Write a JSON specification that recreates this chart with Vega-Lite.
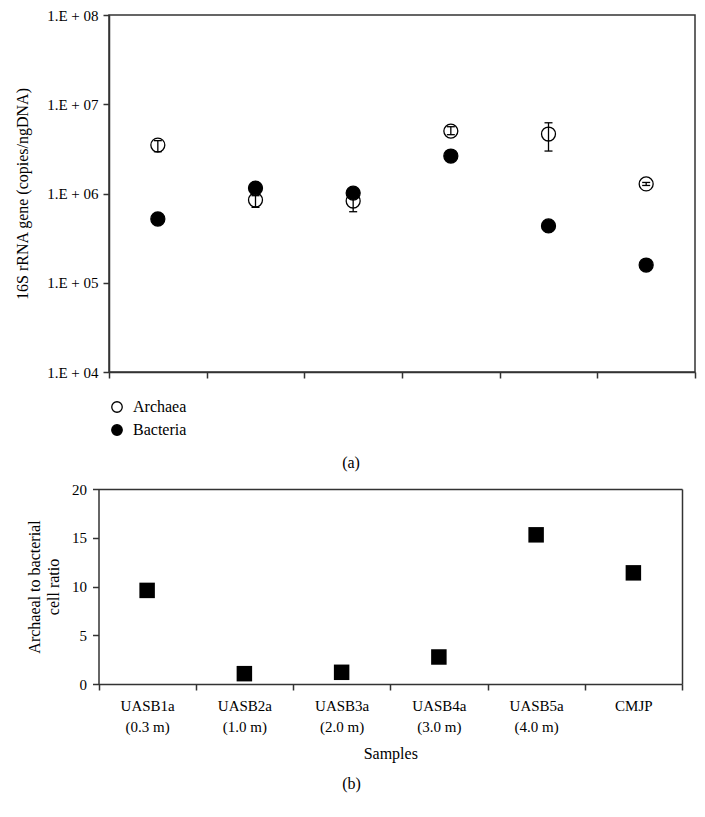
{
  "$schema": "https://vega.github.io/schema/vega-lite/v6.json",
  "padding": {"left": 13, "top": 7, "right": 5, "bottom": 5},
  "spacing": 10,
  "resolve": {"legend": {"fill": "independent"}, "scale": {"fill": "independent"}},
  "config": {
    "font": "Liberation Serif",
    "view": {"stroke": "#333", "strokeWidth": 1.5},
    "axis": {
      "domainColor": "#333", "domainWidth": 1.5, "tickColor": "#333", "tickWidth": 1.5,
      "labelColor": "black", "titleColor": "black", "titleFontWeight": "normal",
      "labelFontSize": 15, "titleFontSize": 16, "grid": false, "tickSize": 6
    },
    "legend": {"labelFontSize": 16, "labelColor": "black"},
    "title": {"fontWeight": "normal", "fontSize": 16, "color": "black"}
  },
  "datasets": {
    "counts": [
      {"sample": "UASB1a (0.3 m)", "group": "Archaea", "value": 3490000, "lo": 2940000, "hi": 3910000},
      {"sample": "UASB2a (1.0 m)", "group": "Archaea", "value": 846000, "lo": 700000, "hi": 945000},
      {"sample": "UASB3a (2.0 m)", "group": "Archaea", "value": 824000, "lo": 625000, "hi": 960000},
      {"sample": "UASB4a (3.0 m)", "group": "Archaea", "value": 5000000, "lo": 4560000, "hi": 5600000},
      {"sample": "UASB5a (4.0 m)", "group": "Archaea", "value": 4640000, "lo": 2990000, "hi": 6200000},
      {"sample": "CMJP", "group": "Archaea", "value": 1280000, "lo": 1230000, "hi": 1330000},
      {"sample": "UASB1a (0.3 m)", "group": "Bacteria", "value": 518000},
      {"sample": "UASB2a (1.0 m)", "group": "Bacteria", "value": 1150000},
      {"sample": "UASB3a (2.0 m)", "group": "Bacteria", "value": 1010000},
      {"sample": "UASB4a (3.0 m)", "group": "Bacteria", "value": 2630000},
      {"sample": "UASB5a (4.0 m)", "group": "Bacteria", "value": 433000},
      {"sample": "CMJP", "group": "Bacteria", "value": 158000}
    ],
    "ratio": [
      {"sample": "UASB1a (0.3 m)", "ratio": 9.6},
      {"sample": "UASB2a (1.0 m)", "ratio": 1.06},
      {"sample": "UASB3a (2.0 m)", "ratio": 1.2},
      {"sample": "UASB4a (3.0 m)", "ratio": 2.77},
      {"sample": "UASB5a (4.0 m)", "ratio": 15.3},
      {"sample": "CMJP", "ratio": 11.4}
    ]
  },
  "vconcat": [
    {
      "width": 586,
      "height": 357,
      "data": {"name": "counts"},
      "title": {"text": "(a)", "orient": "bottom", "anchor": "middle", "frame": "group", "dx": -51, "offset": 17},
      "layer": [
        {
          "mark": {"type": "point", "shape": "circle", "size": 195, "stroke": "black", "strokeWidth": 1.3, "opacity": 1},
          "encoding": {
            "x": {
              "field": "sample", "type": "nominal", "sort": null,
              "scale": {"paddingInner": 0, "paddingOuter": 0},
              "axis": {"labels": false, "title": null, "tickBand": "extent"}
            },
            "y": {
              "field": "value", "type": "quantitative",
              "scale": {"type": "log", "domain": [10000, 100000000], "nice": false},
              "axis": {
                "values": [10000, 100000, 1000000, 10000000, 100000000],
                "labelExpr": "datum.value >= 50000000 ? '1.E + 08' : datum.value >= 5000000 ? '1.E + 07' : datum.value >= 500000 ? '1.E + 06' : datum.value >= 50000 ? '1.E + 05' : '1.E + 04'",
                "labelPadding": 5, "titlePadding": 16,
                "title": "16S rRNA gene (copies/ngDNA)"
              }
            },
            "fill": {
              "field": "group", "type": "nominal",
              "scale": {"domain": ["Archaea", "Bacteria"], "range": ["white", "black"]},
              "legend": {
                "title": null, "orient": "bottom",
                "symbolType": "circle", "symbolSize": 110, "symbolStrokeColor": "black", "symbolStrokeWidth": 1.3,
                "labelOffset": 8, "rowPadding": 7, "direction": "vertical", "offset": 20
              }
            }
          }
        },
        {
          "transform": [{"filter": "datum.group === 'Archaea'"}],
          "mark": {"type": "rule", "stroke": "black", "strokeWidth": 1.3},
          "encoding": {
            "x": {"field": "sample", "type": "nominal", "sort": null},
            "y": {"field": "lo", "type": "quantitative"},
            "y2": {"field": "hi"}
          }
        },
        {
          "transform": [{"filter": "datum.group === 'Archaea'"}],
          "mark": {"type": "tick", "orient": "horizontal", "size": 8, "thickness": 1.3, "color": "black", "opacity": 1},
          "encoding": {
            "x": {"field": "sample", "type": "nominal", "sort": null},
            "y": {"field": "lo", "type": "quantitative"}
          }
        },
        {
          "transform": [{"filter": "datum.group === 'Archaea'"}],
          "mark": {"type": "tick", "orient": "horizontal", "size": 8, "thickness": 1.3, "color": "black", "opacity": 1},
          "encoding": {
            "x": {"field": "sample", "type": "nominal", "sort": null},
            "y": {"field": "hi", "type": "quantitative"}
          }
        }
      ]
    },
    {
      "width": 573,
      "height": 195,
      "data": {"name": "ratio"},
      "view": {"stroke": null},
      "title": {"text": "(b)", "orient": "bottom", "anchor": "middle", "frame": "group", "dx": -44, "offset": 15},
      "resolve": {"axis": {"x": "independent", "y": "independent"}},
      "layer": [
        {
          "mark": {"type": "point", "shape": "square", "size": 240, "filled": true, "color": "black", "opacity": 1},
          "encoding": {
            "x": {
              "field": "sample", "type": "nominal", "sort": null,
              "scale": {"paddingInner": 0, "paddingOuter": 0, "range": [-10.5, 573]},
              "axis": {
                "orient": "bottom", "labelAngle": 0, "labelPadding": 8, "tickBand": "extent",
                "labelExpr": "isString(datum.value) ? split(replace(datum.value, ' (', '|('), '|') : ''", "labelLineHeight": 21,
                "title": "Samples", "titlePadding": 11
              }
            },
            "y": {
              "field": "ratio", "type": "quantitative",
              "scale": {"domain": [0, 20], "nice": false},
              "axis": {
                "orient": "left", "offset": 10.5,
                "values": [0, 5, 10, 15, 20], "labelPadding": 6,
                "title": ["Archaeal to bacterial", "cell ratio"], "titleLineHeight": 19, "titlePadding": 10
              }
            }
          }
        },
        {
          "mark": {"type": "point", "opacity": 0},
          "encoding": {
            "x": {"field": "sample", "type": "nominal", "sort": null, "axis": {"orient": "top", "labels": false, "ticks": false, "title": null}},
            "y": {"field": "ratio", "type": "quantitative", "axis": {"orient": "right", "labels": false, "ticks": false, "title": null}}
          }
        }
      ]
    }
  ]
}
